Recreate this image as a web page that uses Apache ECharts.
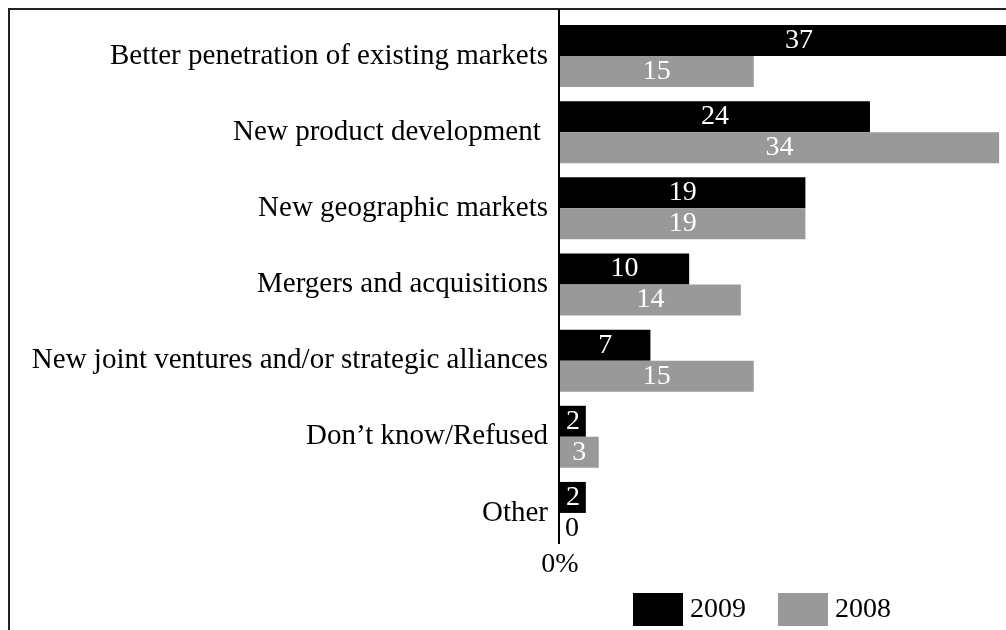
<!DOCTYPE html>
<html>
<head>
<meta charset="utf-8">
<script src="https://cdn.jsdelivr.net/npm/echarts@6/dist/echarts.min.js"></script>
<style>
  html, body { margin: 0; padding: 0; background: #fff; }
  #chart { width: 1006px; height: 630px; }
</style>
</head>
<body>
<div id="chart"></div>
<script>
// categories, top to bottom
var categories = [
  "Better penetration of existing markets",
  "New product development ",
  "New geographic markets",
  "Mergers and acquisitions",
  "New joint ventures and/or strategic alliances",
  "Don\u2019t know/Refused",
  "Other"
];
var values2009 = [37, 24, 19, 10, 7, 2, 2];
var values2008 = [15, 34, 19, 14, 15, 3, 0];
var seriesNames = ["2009", "2008"];

var serif = "'Liberation Serif', 'Times New Roman', serif";
// the visible axis stops short of the longest bar, which runs off the page
var axisMax = 34.3;

// zero-width bar gets its label outside in black
function withZeroLabel(arr) {
  return arr.map(function (v) {
    if (v === 0) {
      return { value: v, label: { position: "right", distance: 5, color: "#000" } };
    }
    return v;
  });
}

var chart = echarts.init(document.getElementById("chart"));
chart.setOption({
  animation: false,
  backgroundColor: "#fff",
  grid: {
    left: 560,
    top: 18,
    bottom: 79,
    right: 0
  },
  legend: {
    left: 628,
    top: 588,
    itemWidth: 50,
    itemHeight: 33,
    itemGap: 32,
    icon: "rect",
    data: seriesNames,
    textStyle: { fontFamily: serif, fontSize: 28, color: "#000", padding: [0, 0, 0, 2] }
  },
  xAxis: {
    type: "value",
    min: 0,
    max: axisMax,
    interval: axisMax,
    axisLine: { show: false },
    axisTick: { show: false },
    splitLine: { show: false },
    axisLabel: {
      margin: 0,
      fontFamily: serif,
      fontSize: 28,
      color: "#000",
      formatter: function (v) { return v === 0 ? "0%" : ""; }
    }
  },
  yAxis: {
    type: "category",
    inverse: true,
    data: categories,
    axisLine: { show: false },
    axisTick: { show: false },
    axisLabel: {
      margin: 12,
      fontFamily: serif,
      fontSize: 29,
      color: "#000"
    }
  },
  series: [
    {
      name: seriesNames[0],
      type: "bar",
      data: withZeroLabel(values2009),
      barWidth: 31,
      barGap: "0%",
      clip: false,
      itemStyle: { color: "#000000" },
      label: {
        show: true,
        position: "inside",
        color: "#fff",
        fontFamily: serif,
        fontSize: 28
      }
    },
    {
      name: seriesNames[1],
      type: "bar",
      data: withZeroLabel(values2008),
      barWidth: 31,
      barGap: "0%",
      clip: false,
      itemStyle: { color: "#999999" },
      label: {
        show: true,
        position: "inside",
        color: "#fff",
        fontFamily: serif,
        fontSize: 28
      }
    }
  ],
  graphic: [
    // outer frame (top and left edges)
    { type: "line", shape: { x1: 8, y1: 9, x2: 1006, y2: 9 }, style: { stroke: "#222", lineWidth: 2 } },
    { type: "line", shape: { x1: 9, y1: 8, x2: 9, y2: 630 }, style: { stroke: "#222", lineWidth: 2 } },
    // category axis line
    { type: "line", shape: { x1: 559, y1: 9, x2: 559, y2: 544 }, style: { stroke: "#000", lineWidth: 2 }, z: 100 }
  ]
});
</script>
</body>
</html>
